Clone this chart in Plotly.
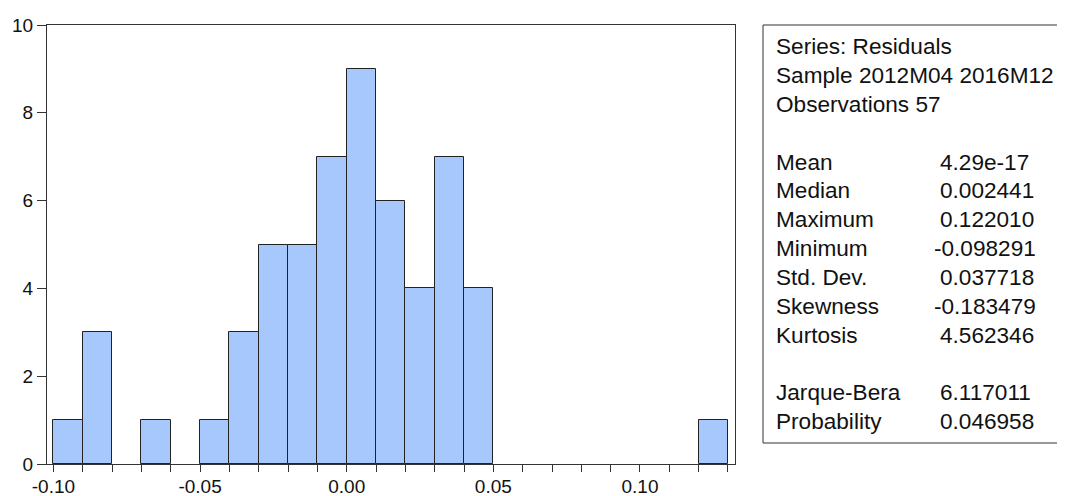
import plotly.graph_objects as go

# histogram of residuals: left edge of each non-empty bin and its count
bin_left = [-0.10, -0.09, -0.07, -0.05, -0.04, -0.03, -0.02, -0.01,
            0.00, 0.01, 0.02, 0.03, 0.04, 0.12]
counts = [1, 3, 1, 1, 3, 5, 5, 7, 9, 6, 4, 7, 4, 1]
bin_width = 0.01

x_ticks = [-0.10, -0.05, 0.00, 0.05, 0.10]
x_tick_text = ["-0.10", "-0.05", "0.00", "0.05", "0.10"]
y_ticks = [0, 2, 4, 6, 8, 10]

# descriptive statistics box
header_lines = ["Series: Residuals", "Sample 2012M04 2016M12", "Observations 57"]
stat_labels = ["Mean", "Median", "Maximum", "Minimum", "Std. Dev.",
               "Skewness", "Kurtosis", "", "Jarque-Bera", "Probability"]
stat_values = ["4.29e-17", "0.002441", "0.122010", "-0.098291", "0.037718",
               "-0.183479", "4.562346", "", "6.117011", "0.046958"]

# the page puts the figure 8px in from the top-left corner, so the figure
# is sized to the visible window and all pixel positions are shifted by 8
OFF = 8
W, H = 1065 - 2 * OFF, 496 - OFF
L, R, T, B = 47 - OFF, 735 - OFF, 25 - OFF, 464 - OFF   # plot area in pixels
FONT = "Liberation Sans, Arial"


def px(x):
    return (x - OFF - L) / (R - L)


def py(y):
    return (B - (y - OFF)) / (B - T)


centers = [e + bin_width / 2 for e in bin_left]

fig = go.Figure()
fig.add_trace(go.Bar(
    x=centers,
    y=counts,
    width=bin_width,
    marker=dict(color="#a6c8fd", line=dict(color="#222222", width=1)),
    showlegend=False,
))

fig.add_shape(type="rect", xref="paper", yref="paper",
              x0=px(763), x1=px(1100), y0=py(443), y1=py(25),
              line=dict(color="#333333", width=1), fillcolor="rgba(0,0,0,0)")

# one annotation per text line, 28.85 px apart
first_line, line_step = 46.7, 28.85
labels = header_lines + [""] + stat_labels
values = [""] * 4 + stat_values
for i, (lab, val) in enumerate(zip(labels, values)):
    yy = py(first_line + i * line_step)
    if lab:
        fig.add_annotation(xref="paper", yref="paper", x=px(774), y=yy,
                           xanchor="left", yanchor="middle", text=lab,
                           showarrow=False,
                           font=dict(family=FONT, size=22.6, color="#111111"))
    if val:
        fig.add_annotation(xref="paper", yref="paper",
                           x=px(932 if val.startswith("-") else 938), y=yy,
                           xanchor="left", yanchor="middle", text=val,
                           showarrow=False,
                           font=dict(family=FONT, size=22.6, color="#111111"))

fig.update_xaxes(
    range=[-0.1022, 0.1324],
    tickvals=x_ticks,
    ticktext=x_tick_text,
    ticks="outside", ticklen=7, tickcolor="#333333",
    minor=dict(dtick=bin_width, tick0=-0.10, ticks="outside", ticklen=7, tickcolor="#333333"),
    showline=True, linecolor="#333333", linewidth=1, mirror=True,
    showgrid=False, zeroline=False, automargin=False,
    ticklabelstandoff=-2,
    tickfont=dict(family=FONT, size=19, color="#111111"),
)
fig.update_yaxes(
    range=[0, 10],
    tickvals=y_ticks,
    ticks="outside", ticklen=9, tickcolor="#333333",
    showline=True, linecolor="#333333", linewidth=1, mirror=True,
    showgrid=False, zeroline=False, automargin=False,
    tickfont=dict(family=FONT, size=19, color="#111111"),
)

fig.update_layout(
    width=W, height=H,
    margin=dict(l=L, r=W - R, t=T, b=H - B),
    plot_bgcolor="white", paper_bgcolor="white",
    bargap=0,
)

fig.write_html("out.html")
